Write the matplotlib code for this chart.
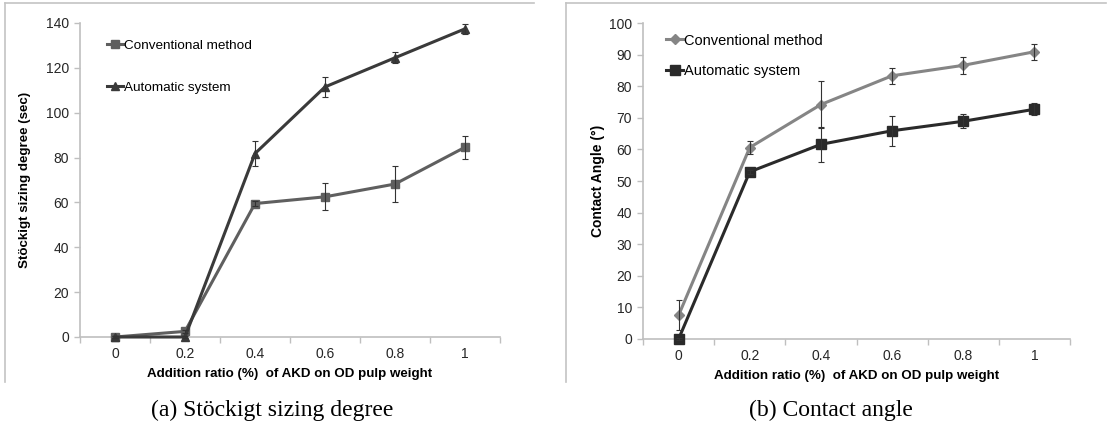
import matplotlib
matplotlib.use("Agg")
import matplotlib.pyplot as plt
from matplotlib.lines import Line2D
import numpy as np

plt.rcParams.update({
    "font.family": ["Liberation Sans", "DejaVu Sans"],
    "font.size": 9,
})

# ---- data ----
ratios = ["0", "0.2", "0.4", "0.6", "0.8", "1"]

# (a) Stöckigt sizing degree (sec)
sizing_conv = [0, 2.5, 59.5, 62.5, 68.2, 84.6]
sizing_conv_err = [0.5, 0.8, 1.0, 6.0, 8.0, 5.1]
sizing_auto = [0, 0, 81.8, 111.5, 124.5, 137.4]
sizing_auto_err = [0.3, 0.3, 5.7, 4.6, 2.5, 2.3]

# (b) Contact angle (deg)
angle_conv = [7.5, 60.6, 74.2, 83.3, 86.6, 90.9]
angle_conv_err = [4.8, 2.2, 7.4, 2.6, 2.6, 2.5]
angle_auto = [0, 52.9, 61.6, 65.9, 68.9, 72.7]
angle_auto_err = [0.3, 0.6, 5.6, 4.8, 2.2, 1.9]

XLABEL = "Addition ratio (%)  of AKD on OD pulp weight"
AXIS_C = "#bfbfbf"
TXT_C = "#262626"

fig = plt.figure(figsize=(11.07, 4.24), dpi=100)
W, H = 1107, 424


def style_axes(ax, ymax, ystep):
    x = np.arange(len(ratios))
    ax.set_xlim(-0.5, len(ratios) - 0.5)
    ax.set_ylim(0, ymax)
    ax.set_yticks(np.arange(0, ymax + 1, ystep))
    ax.set_xticks(np.arange(-0.5, len(ratios)), labels=[""] * (len(ratios) + 1))
    ax.set_xticks(x, labels=ratios, minor=True)
    ax.tick_params(axis="x", which="major", length=4, color=AXIS_C, width=1)
    ax.tick_params(axis="x", which="minor", length=0, pad=7, labelsize=10,
                   labelcolor=TXT_C)
    ax.tick_params(axis="y", length=4, color=AXIS_C, width=1, pad=4,
                   labelsize=10, labelcolor=TXT_C)
    for s in ["top", "right"]:
        ax.spines[s].set_visible(False)
    for s in ["left", "bottom"]:
        ax.spines[s].set_color(AXIS_C)
        ax.spines[s].set_linewidth(1.2)
    ax.set_xlabel(XLABEL, fontsize=9.6, fontweight="bold", labelpad=5.5)
    ax.set_facecolor("none")


def series(ax, y, err, color, marker, label, ms):
    x = np.arange(len(ratios))
    ax.plot(x, y, color=color, lw=2.2, marker=marker, ms=ms, label=label,
            zorder=3, clip_on=False)
    ax.errorbar(x, y, yerr=err, fmt="none", ecolor="#333333", elinewidth=0.8,
                capsize=2.2, capthick=0.8, zorder=4, clip_on=False)


# ---- (a) ----
ax1 = fig.add_axes([80 / W, 1 - 337 / H, 420 / W, 314 / H])
series(ax1, sizing_conv, sizing_conv_err, "#5f5f5f", "s", "Conventional method", 6)
series(ax1, sizing_auto, sizing_auto_err, "#3a3a3a", "^", "Automatic system", 6)
style_axes(ax1, 140, 20)
ax1.set_ylabel("Stöckigt sizing degree (sec)", fontsize=9.6, fontweight="bold")
ax1.yaxis.set_label_coords(-0.117, 0.5)
ax1.legend(loc="upper left", bbox_to_anchor=(0.052, 0.965), frameon=False,
           fontsize=9.7, handlelength=1.2, handletextpad=0.05,
           labelspacing=2.2, borderaxespad=0)

# ---- (b) ----
ax2 = fig.add_axes([643 / W, 1 - 339 / H, 427 / W, 316 / H])
series(ax2, angle_conv, angle_conv_err, "#858585", "D", "Conventional method", 5)
series(ax2, angle_auto, angle_auto_err, "#2a2a2a", "s", "Automatic system", 6.5)
style_axes(ax2, 100, 10)
ax2.set_ylabel("Contact Angle (°)", fontsize=10, fontweight="bold")
ax2.yaxis.set_label_coords(-0.09, 0.5)
ax2.legend(loc="upper left", bbox_to_anchor=(0.04, 0.985), frameon=False,
           fontsize=10.5, handlelength=1.2, handletextpad=0.05,
           labelspacing=1.15, borderaxespad=0)

# chart-area frames (only top and left edges visible)
for x0, x1 in [(5, 534), (566, 1106)]:
    fig.add_artist(Line2D([x0 / W, x0 / W], [1 - 382 / H, 1 - 3 / H],
                          color="#c4c4c4", lw=1.2))
    fig.add_artist(Line2D([x0 / W, x1 / W], [1 - 3 / H, 1 - 3 / H],
                          color="#c4c4c4", lw=1.2))

# captions
fig.text(272 / W, 1 - 410 / H, "(a) Stöckigt sizing degree", ha="center",
         va="center", fontsize=17, family="Liberation Serif")
fig.text(831 / W, 1 - 410 / H, "(b) Contact angle", ha="center",
         va="center", fontsize=17, family="Liberation Serif")

fig.savefig("out.png", dpi=100)
